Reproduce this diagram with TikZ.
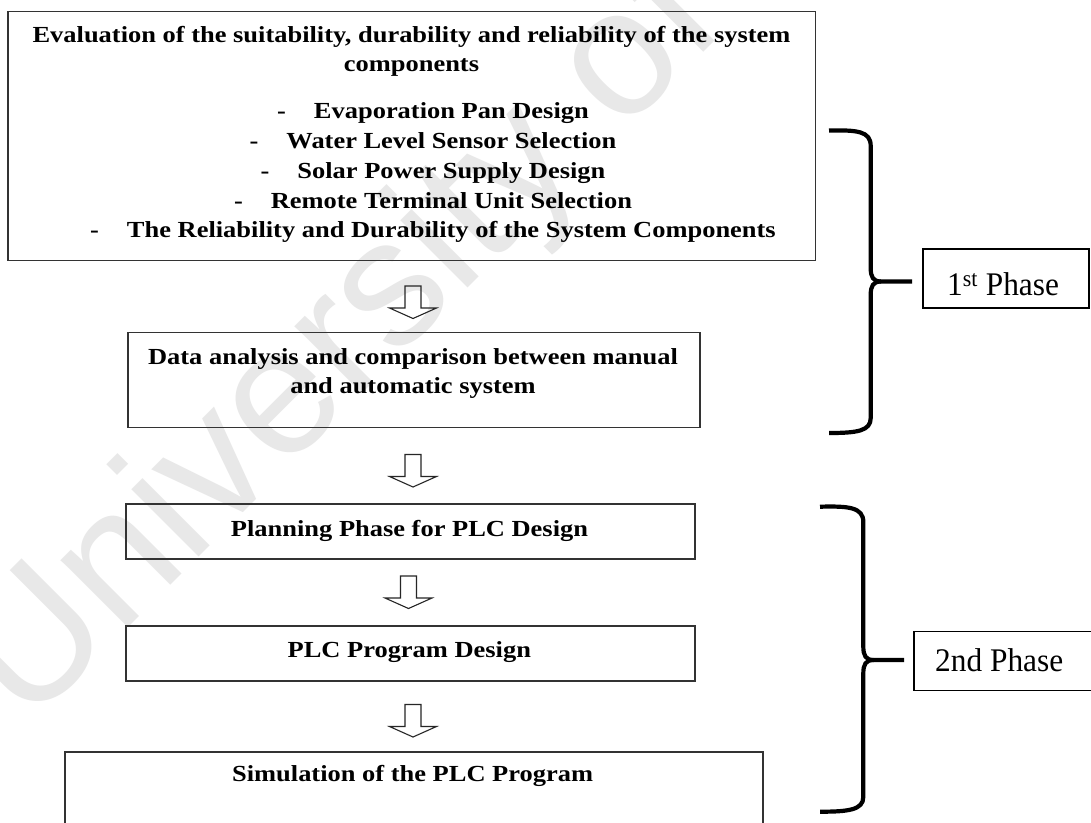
\documentclass[tikz,border=0pt]{standalone}
\usepackage{fontspec}
\setmainfont{Liberation Serif}
\newfontfamily\stepfont[FakeStretch=1.15]{Liberation Serif}
\newfontfamily\labelfont[FakeStretch=0.95]{Liberation Serif}
\newfontfamily\markfont{Liberation Sans}

% hollow block arrow hanging below a named top point
\newcommand\flowarrow[1]{%
  \draw[blockarrow] (#1) ++(-8,0) -- ++(0,22) -- ++(-15.5,0) -- ++(23.5,10.5)
    -- ++(23.5,-10.5) -- ++(-15.5,0) -- ++(0,-22) -- cycle;}

\begin{document}
\begin{tikzpicture}[x=1pt,y=-1pt,
  stagebox/.style={draw=black!80, line width=1.8pt, inner sep=0pt, outer sep=0pt},
  steptext/.style={font=\stepfont\bfseries\fontsize{23}{29}\selectfont, inner sep=0pt, anchor=base},
  phasebox/.style={draw=black, line width=1.4pt, inner sep=0pt, outer sep=0pt},
  phasetext/.style={font=\labelfont\fontsize{33}{38}\selectfont, inner sep=0pt, anchor=base west},
  blockarrow/.style={draw=black!85, line width=1.1pt, line join=miter},
  bracket/.style={draw=black, line width=4.2pt},
  watermark/.style={font=\markfont\fontsize{180}{180}\selectfont, text=black!9, inner sep=0pt},
]
\clip (0,0) rectangle (1091,822);
\fill[white] (0,0) rectangle (1091,822);

% faint background stamp
\node[watermark, rotate=45] (stamp) at (345,345) {University of};

% stage boxes
\node[stagebox, minimum width=807.5pt, minimum height=249pt] (eval) at (411.75,136) {};
\node[stagebox, minimum width=572pt, minimum height=95pt] (data) at (414,379.9) {};
\node[stagebox, minimum width=568.7pt, minimum height=55.1pt] (plan) at (410.6,531.8) {};
\node[stagebox, minimum width=568.7pt, minimum height=54.7pt] (prog) at (410.6,653.4) {};
\node[stagebox, minimum width=698pt, minimum height=108pt] (sim) at (414,806) {};

% stage texts
\node[steptext] (evalA) at (411.5,42.5) {Evaluation of the suitability, durability and reliability of the system};
\node[steptext] (evalB) at (411.5,71.5) {components};
\node[steptext] (item1) at (433,118.3) {-\hspace{28pt}Evaporation Pan Design};
\node[steptext] (item2) at (433,148.3) {-\hspace{28pt}Water Level Sensor Selection};
\node[steptext] (item3) at (433,178.3) {-\hspace{28pt}Solar Power Supply Design};
\node[steptext] (item4) at (433,208.3) {-\hspace{28pt}Remote Terminal Unit Selection};
\node[steptext] (item5) at (433,237.8) {-\hspace{28pt}The Reliability and Durability of the System Components};

\node[steptext] (dataA) at (413,364.3) {Data analysis and comparison between manual};
\node[steptext] (dataB) at (413,393.3) {and automatic system};
\node[steptext] (planT) at (409.5,536.7) {Planning Phase for PLC Design};
\node[steptext] (progT) at (409.3,657.7) {PLC Program Design};
\node[steptext] (simT) at (412.6,781.7) {Simulation of the PLC Program};

% arrows between stages
\coordinate (arrA) at (413,286);
\coordinate (arrB) at (413,454.5);
\coordinate (arrC) at (408.5,576);
\coordinate (arrD) at (413,704.5);
\flowarrow{arrA}
\flowarrow{arrB}
\flowarrow{arrC}
\flowarrow{arrD}

% phase labels
\node[phasebox, minimum width=166pt, minimum height=59pt] (phaseA) at (1006,278.5) {};
\node[phasetext] (phaseAT) at (947,295.5) {1\textsuperscript{st} Phase};
\node[phasebox, minimum width=186pt, minimum height=59pt] (phaseB) at (1007,661.2) {};
\node[phasetext] (phaseBT) at (935,671) {2nd Phase};

% braces grouping the stages into phases
\coordinate (tipA) at (912,281.5);
\coordinate (tipB) at (904,660);
\draw[bracket] (829,130.5) .. controls (857,130) and (870.7,131) .. (870.7,146)
  -- (870.7,268) .. controls (870.7,277) and (873,281.5) .. (881,281.5) -- (tipA);
\draw[bracket] (881,281.5) .. controls (873,281.5) and (870.7,286) .. (870.7,295)
  -- (870.7,418) .. controls (870.7,431) and (857,433) .. (829,433);

\draw[bracket] (820,506.7) .. controls (848,506) and (863.3,507) .. (863.3,522)
  -- (863.3,646.5) .. controls (863.3,655.5) and (865.6,660) .. (873.6,660) -- (tipB);
\draw[bracket] (873.6,660) .. controls (865.6,660) and (863.3,664.5) .. (863.3,673.5)
  -- (863.3,797) .. controls (863.3,810) and (848,811.7) .. (820,811.7);
\end{tikzpicture}
\end{document}
